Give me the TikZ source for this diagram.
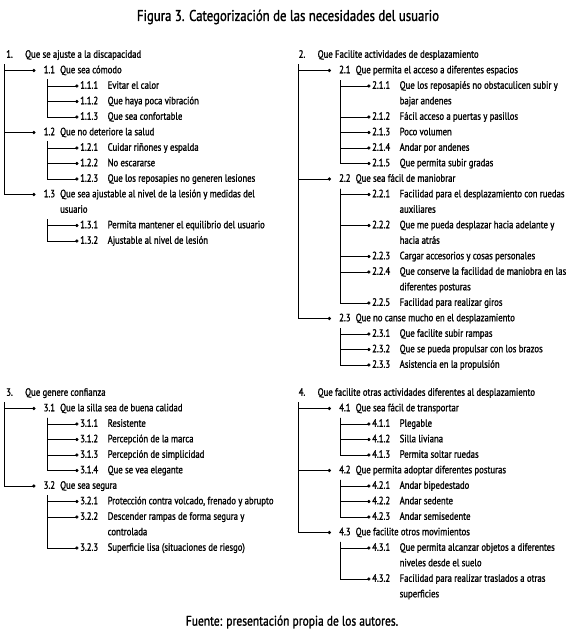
\documentclass[tikz,border=0pt]{standalone}
\usepackage{fontspec}
\setmainfont[FakeStretch=0.82,FakeBold=1.2]{PT Sans}
\usetikzlibrary{arrows.meta}
\newcommand\bodyfont{\fontsize{10.6}{12}\selectfont}
\newcommand\NumA[1]{\makebox[19pt][l]{#1}}
\newcommand\NumB[1]{\makebox[16.5pt][l]{#1}}
\newcommand\NumC[1]{\makebox[27.5pt][l]{#1}}
\begin{document}
\begin{tikzpicture}[x=1pt,y=-1pt,
  item/.style={anchor=west,inner sep=0pt,text height=7.5pt,text depth=2pt,font=\bodyfont},
  connA/.style={line width=0.8pt,-{Circle[length=3.2pt]}},
  connB/.style={line width=0.6pt,-{Circle[length=3.2pt]}},
  titlestyle/.style={inner sep=0pt,font=\fontsize{15.6}{18}\selectfont},
  footstyle/.style={inner sep=0pt,font=\fontsize{14}{16}\selectfont}]
\fill[white] (0,0) rectangle (580,637);
\useasboundingbox (0,0) rectangle (580,637);

\node[titlestyle] (title) at (288,17) {Figura 3. Categorización de las necesidades del usuario};
\node[footstyle] (foot) at (292,622) {Fuente: presentación propia de los autores.};

% ---------- 1 ----------
\node[item] (n1) at (6,55) {\NumA{1.}Que se ajuste a la discapacidad};
\node[item] (n11) at (43.5,70.5) {\NumB{1.1}Que sea cómodo};
\node[item] (n111) at (80,86) {\NumC{1.1.1}Evitar el calor};
\node[item] (n112) at (80,101.5) {\NumC{1.1.2}Que haya poca vibración};
\node[item] (n113) at (80,117) {\NumC{1.1.3}Que sea confortable};
\node[item] (n12) at (43.5,132.5) {\NumB{1.2}Que no deteriore la salud};
\node[item] (n121) at (80,148) {\NumC{1.2.1}Cuidar riñones y espalda};
\node[item] (n122) at (80,163.5) {\NumC{1.2.2}No escararse};
\node[item] (n123) at (80,179) {\NumC{1.2.3}Que los reposapies no generen lesiones};
\node[item] (n13) at (43.5,194.5) {\NumB{1.3}Que sea ajustable al nivel de la lesión y medidas del};
\node[item] (n13b) at (60,210) {usuario};
\node[item] (n131) at (80,225.5) {\NumC{1.3.1}Permita mantener el equilibrio del usuario};
\node[item] (n132) at (80,241) {\NumC{1.3.2}Ajustable al nivel de lesión};
\coordinate (v1) at (4.5,64);
\coordinate (v11) at (47.7,79);
\coordinate (v12) at (47.7,141);
\coordinate (v13) at (47.7,219);
\foreach \c in {n11,n12,n13} \draw[connA] (v1) |- ([xshift=-8pt]\c.west);
\foreach \c in {n111,n112,n113} \draw[connB] (v11) |- ([xshift=-1.5pt]\c.west);
\foreach \c in {n121,n122,n123} \draw[connB] (v12) |- ([xshift=-1.5pt]\c.west);
\foreach \c in {n131,n132} \draw[connB] (v13) |- ([xshift=-1.5pt]\c.west);

% ---------- 2 ----------
\node[item] (n2) at (298.5,55) {\NumA{2.}Que Facilite actividades de desplazamiento};
\node[item] (n21) at (339,70.5) {\NumB{2.1}Que permita el acceso a diferentes espacios};
\node[item] (n211) at (372,86) {\NumC{2.1.1}Que los reposapiés no obstaculicen subir y};
\node[item] (n211b) at (399.5,101.5) {bajar andenes};
\node[item] (n212) at (372,117) {\NumC{2.1.2}Fácil acceso a puertas y pasillos};
\node[item] (n213) at (372,132.5) {\NumC{2.1.3}Poco volumen};
\node[item] (n214) at (372,148) {\NumC{2.1.4}Andar por andenes};
\node[item] (n215) at (372,163.5) {\NumC{2.1.5}Que permita subir gradas};
\node[item] (n22) at (339,179) {\NumB{2.2}Que sea fácil de maniobrar};
\node[item] (n221) at (372,194.5) {\NumC{2.2.1}Facilidad para el desplazamiento con ruedas};
\node[item] (n221b) at (399.5,210) {auxiliares};
\node[item] (n222) at (372,225.5) {\NumC{2.2.2}Que me pueda desplazar hacia adelante y};
\node[item] (n222b) at (399.5,241) {hacia atrás};
\node[item] (n223) at (372,256.5) {\NumC{2.2.3}Cargar accesorios y cosas personales};
\node[item] (n224) at (372,272) {\NumC{2.2.4}Que conserve la facilidad de maniobra en las};
\node[item] (n224b) at (399.5,287.5) {diferentes posturas};
\node[item] (n225) at (372,303) {\NumC{2.2.5}Facilidad para realizar giros};
\node[item] (n23) at (339,318.5) {\NumB{2.3}Que no canse mucho en el desplazamiento};
\node[item] (n231) at (372,334) {\NumC{2.3.1}Que facilite subir rampas};
\node[item] (n232) at (372,349.5) {\NumC{2.3.2}Que se pueda propulsar con los brazos};
\node[item] (n233) at (372,365) {\NumC{2.3.3}Asistencia en la propulsión};
\coordinate (v2) at (298.3,64);
\coordinate (v21) at (340.7,80);
\coordinate (v22) at (340.7,188.5);
\coordinate (v23) at (340.7,328);
\foreach \c in {n21,n22,n23} \draw[connA] (v2) |- ([xshift=-8pt]\c.west);
\foreach \c in {n211,n212,n213,n214,n215} \draw[connB] (v21) |- ([xshift=-1.5pt]\c.west);
\foreach \c in {n221,n222,n223,n224,n225} \draw[connB] (v22) |- ([xshift=-1.5pt]\c.west);
\foreach \c in {n231,n232,n233} \draw[connB] (v23) |- ([xshift=-1.5pt]\c.west);

% ---------- 3 ----------
\node[item] (n3) at (6,393) {\NumA{3.}Que genere confianza};
\node[item] (n31) at (43.5,408.5) {\NumB{3.1}Que la silla sea de buena calidad};
\node[item] (n311) at (80,424) {\NumC{3.1.1}Resistente};
\node[item] (n312) at (80,439.5) {\NumC{3.1.2}Percepción de la marca};
\node[item] (n313) at (80,455) {\NumC{3.1.3}Percepción de simplicidad};
\node[item] (n314) at (80,470.5) {\NumC{3.1.4}Que se vea elegante};
\node[item] (n32) at (43.5,486) {\NumB{3.2}Que sea segura};
\node[item] (n321) at (80,501.5) {\NumC{3.2.1}Protección contra volcado, frenado y abrupto};
\node[item] (n322) at (80,517) {\NumC{3.2.2}Descender rampas de forma segura y};
\node[item] (n322b) at (107.5,532.5) {controlada};
\node[item] (n323) at (80,548) {\NumC{3.2.3}Superficie lisa (situaciones de riesgo)};
\coordinate (v3) at (4.5,402);
\coordinate (v31) at (47.7,417.5);
\coordinate (v32) at (47.7,495);
\foreach \c in {n31,n32} \draw[connA] (v3) |- ([xshift=-8pt]\c.west);
\foreach \c in {n311,n312,n313,n314} \draw[connB] (v31) |- ([xshift=-1.5pt]\c.west);
\foreach \c in {n321,n322,n323} \draw[connB] (v32) |- ([xshift=-1.5pt]\c.west);

% ---------- 4 ----------
\node[item] (n4) at (298.5,393) {\NumA{4.}Que facilite otras actividades diferentes al desplazamiento};
\node[item] (n41) at (339,408.5) {\NumB{4.1}Que sea fácil de transportar};
\node[item] (n411) at (372,424) {\NumC{4.1.1}Plegable};
\node[item] (n412) at (372,439.5) {\NumC{4.1.2}Silla liviana};
\node[item] (n413) at (372,455) {\NumC{4.1.3}Permita soltar ruedas};
\node[item] (n42) at (339,470.5) {\NumB{4.2}Que permita adoptar diferentes posturas};
\node[item] (n421) at (372,486) {\NumC{4.2.1}Andar bipedestado};
\node[item] (n422) at (372,501.5) {\NumC{4.2.2}Andar sedente};
\node[item] (n423) at (372,517) {\NumC{4.2.3}Andar semisedente};
\node[item] (n43) at (339,532.5) {\NumB{4.3}Que facilite otros movimientos};
\node[item] (n431) at (372,548) {\NumC{4.3.1}Que permita alcanzar objetos a diferentes};
\node[item] (n431b) at (399.5,563.5) {niveles desde el suelo};
\node[item] (n432) at (372,579) {\NumC{4.3.2}Facilidad para realizar traslados a otras};
\node[item] (n432b) at (399.5,594.5) {superficies};
\coordinate (v4) at (298.3,402);
\coordinate (v41) at (340.7,417.5);
\coordinate (v42) at (340.7,479.5);
\coordinate (v43) at (340.7,541.5);
\foreach \c in {n41,n42,n43} \draw[connA] (v4) |- ([xshift=-8pt]\c.west);
\foreach \c in {n411,n412,n413} \draw[connB] (v41) |- ([xshift=-1.5pt]\c.west);
\foreach \c in {n421,n422,n423} \draw[connB] (v42) |- ([xshift=-1.5pt]\c.west);
\foreach \c in {n431,n432} \draw[connB] (v43) |- ([xshift=-1.5pt]\c.west);
\end{tikzpicture}
\end{document}
